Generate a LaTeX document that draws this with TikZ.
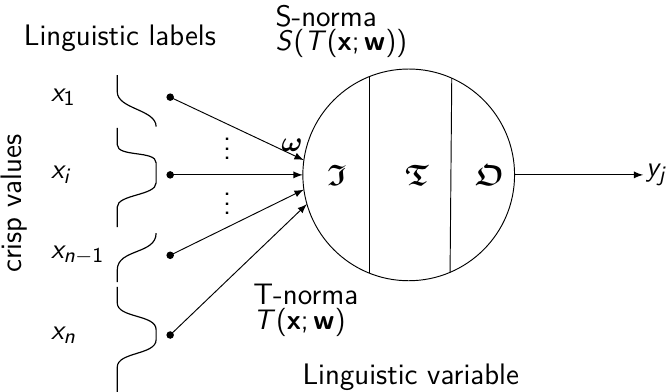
\documentclass[tikz,border=0pt]{standalone}
\usepackage{amsmath, amssymb}
\usepackage{tikz}
\renewcommand{\familydefault}{\sfdefault}
% sans serif math letters, digits and bold
\SetSymbolFont{letters}{normal}{OT1}{cmss}{m}{sl}
\SetSymbolFont{operators}{normal}{OT1}{cmss}{m}{n}
\SetMathAlphabet{\mathbf}{normal}{OT1}{cmss}{bx}{n}
\tikzset{
  txt/.style={font=\fontsize{12.6}{10.5}\selectfont, inner sep=1pt},
  crisp/.style={line width=0.5pt},
}

\begin{document}
\begin{tikzpicture}[>=latex, every node/.style={txt}]
\useasboundingbox (0,0) rectangle (10,5.85);

% neuron
\node[draw, circle, minimum size=3.16cm, inner sep=0pt, outer sep=0pt] (N) at (6.10,3.24) {};
\draw (N.112) -- (N.248);
\draw (N.66.5) -- (N.293.5);
\node (I) at (5.03,3.24) {$\boldsymbol{\mathfrak{I}}$};
\node (T) at (6.22,3.24) {$\boldsymbol{\mathfrak{T}}$};
\node (O) at (7.31,3.24) {$\boldsymbol{\mathfrak{O}}$};

% inputs
\coordinate (d1) at (2.54,4.40);
\coordinate (di) at (2.54,3.24);
\coordinate (dm) at (2.54,2.04);
\coordinate (dn) at (2.54,0.85);
\fill (d1) circle (1.6pt);
\fill (di) circle (1.6pt);
\fill (dm) circle (1.6pt);
\fill (dn) circle (1.6pt);
\draw[->] (d1) -- (N.172);
\draw[->] (di) -- (N.180);
\draw[->] (dm) -- (N.188);
\draw[->] (dn) -- (N.196);
\node[inner sep=0pt] (v1) at (3.39,3.73) {$\vdots$};
\node[inner sep=0pt] (v2) at (3.39,2.91) {$\vdots$};
\node (w) at (4.36,3.69) {$\boldsymbol{\omega}$};

\node[anchor=west] (x1) at (0.72,4.40) {$x_1$};
\node[anchor=west] (xi) at (0.72,3.24) {$x_i$};
\node[anchor=west] (xm) at (0.72,2.04) {$x_{n-1}$};
\node[anchor=west] (xn) at (0.72,0.85) {$x_n$};

% labels as curves
\draw[crisp] (1.75,4.73) -- (1.75,4.48) .. controls (1.75,4.22) and (2.33,4.22) .. (2.33,3.96);
\draw[crisp] (1.75,3.94) -- (1.75,3.69) .. controls (1.75,3.50) and (2.33,3.61) .. (2.33,3.42)
  -- (2.33,3.12) .. controls (2.33,2.93) and (1.75,2.95) .. (1.75,2.76) -- (1.75,2.46);
\draw[crisp] (2.33,2.37) .. controls (2.33,2.05) and (1.75,2.14) .. (1.75,1.82) -- (1.75,1.64);
\draw[crisp] (1.75,1.57) -- (1.75,1.33) .. controls (1.75,1.10) and (2.33,1.16) .. (2.33,0.93)
  -- (2.33,0.78) .. controls (2.33,0.55) and (1.75,0.60) .. (1.75,0.37) -- (1.75,0);

% output
\coordinate (out) at (9.60,3.24);
\draw[->] (N.east) -- (out);
\node[anchor=west] (y) at (out) {$y_j$};

% texts
\node (ll) at (1.79,5.28) {Linguistic labels};
\node[anchor=west, align=left] (sn) at (4.07,5.38) {S-norma\\$S(T(\mathbf{x};\mathbf{w}))$};
\node[anchor=west, align=left] (tn) at (3.74,1.22) {T-norma\\$T(\mathbf{x};\mathbf{w})$};
\node (lv) at (6.13,0.22) {Linguistic variable};
\node[rotate=90] (cv) at (0.21,2.81) {crisp values};

\end{tikzpicture}
\end{document}
